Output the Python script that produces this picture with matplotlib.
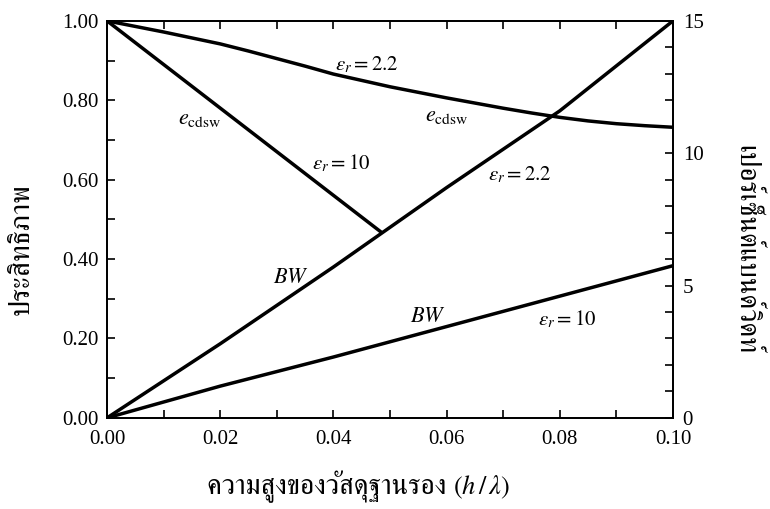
import numpy as np
import matplotlib
matplotlib.use("Agg")
import matplotlib.pyplot as plt
from matplotlib import font_manager
from matplotlib.ft2font import FT2Font
from matplotlib.ticker import MultipleLocator, FormatStrFormatter

# substrate height h/lambda
h_lambda = [0.0, 0.005, 0.01, 0.015, 0.02, 0.025, 0.03, 0.035, 0.04, 0.045,
            0.05, 0.055, 0.06, 0.065, 0.07, 0.075, 0.08, 0.085, 0.09, 0.095, 0.10]

# surface-wave efficiency, er = 2.2
ecdsw_22 = [1.0, 0.986, 0.972, 0.957, 0.942, 0.924, 0.905, 0.886, 0.866, 0.850,
            0.834, 0.820, 0.806, 0.793, 0.780, 0.768, 0.757, 0.748, 0.741, 0.736, 0.732]

# surface-wave efficiency, er = 10 (ends where it meets the BW curve)
h_ecdsw_10 = [0.0, 0.0487]
ecdsw_10 = [1.0, 0.465]

# percent bandwidth
h_bw = [0.0, 0.02, 0.04, 0.06, 0.08, 0.10]
bw_22 = [0.0, 2.8, 5.7, 8.7, 11.6, 15.0]
bw_10 = [0.0, 1.2, 2.3, 3.45, 4.6, 5.75]


def find_thai_family():
    """Return the name of an installed font that has Thai glyphs."""
    found = []
    for f in font_manager.fontManager.ttflist:
        try:
            if 0x0E1B in FT2Font(f.fname).get_charmap():
                found.append(f.name)
        except Exception:
            continue
    if not found:
        return None
    found.sort(key=lambda n: (0 if "Serif" in n else 1, n))
    return found[0]


thai = find_thai_family()
serif = "Liberation Serif"
thai_fam = [thai, serif, "DejaVu Sans"] if thai else [serif, "DejaVu Sans"]

plt.rcParams["font.family"] = serif
plt.rcParams["mathtext.fontset"] = "stix"

fig = plt.figure(figsize=(7.7, 5.09), dpi=100)
ax = fig.add_axes([0.139, 0.179, 0.735, 0.780])
ax2 = ax.twinx()

lw = 2.5
ax.plot(h_lambda, ecdsw_22, color="black", lw=lw, solid_capstyle="butt")
ax.plot(h_ecdsw_10, ecdsw_10, color="black", lw=lw, solid_capstyle="butt")
ax2.plot(h_bw, bw_22, color="black", lw=lw, solid_capstyle="butt")
ax2.plot(h_bw, bw_10, color="black", lw=lw, solid_capstyle="butt")

ax.set_xlim(0, 0.10)
ax.set_ylim(0, 1.0)
ax2.set_ylim(0, 15)

ax.xaxis.set_major_locator(MultipleLocator(0.02))
ax.xaxis.set_minor_locator(MultipleLocator(0.01))
ax.xaxis.set_major_formatter(FormatStrFormatter("%.2f"))
ax.yaxis.set_major_locator(MultipleLocator(0.2))
ax.yaxis.set_minor_locator(MultipleLocator(0.1))
ax.yaxis.set_major_formatter(FormatStrFormatter("%.2f"))
ax2.yaxis.set_major_locator(MultipleLocator(5))
ax2.yaxis.set_minor_locator(MultipleLocator(1))

for a in (ax, ax2):
    a.tick_params(which="both", direction="in", length=6, width=1.2,
                  labelsize=15, pad=6)
    for s in a.spines.values():
        s.set_linewidth(1.3)
ax.tick_params(which="both", top=True, right=False)
ax.tick_params(axis="x", pad=9)
ax2.tick_params(axis="y", pad=7)

# curve annotations
eps = dict(fontsize=15, ha="center", va="center")
sym = dict(fontsize=16, ha="center", va="center")
ax.text(0.0459, 0.889, r"$\varepsilon_r = 2.2$", **eps)
ax.text(0.0601, 0.758, r"$e_{\mathrm{cdsw}}$", **sym)
ax.text(0.0164, 0.751, r"$e_{\mathrm{cdsw}}$", **sym)
ax.text(0.0413, 0.642, r"$\varepsilon_r = 10$", **eps)
ax.text(0.0730, 0.612, r"$\varepsilon_r = 2.2$", **eps)
ax.text(0.0325, 0.350, r"$BW$", **sym)
ax.text(0.0567, 0.252, r"$BW$", **sym)
ax.text(0.0814, 0.247, r"$\varepsilon_r = 10$", **eps)

# axis titles (Thai text, with the h/lambda part in math text)
fig.text(0.588, 0.043, "ความสูงของวัสดุฐานรอง ", family=thai_fam,
         fontsize=20, ha="right", va="center")
fig.text(0.588, 0.043, r"$(h\,/\,\lambda)$", fontsize=19, ha="left", va="center")
fig.text(0.028, 0.51, "ประสิทธิภาพ", family=thai_fam, fontsize=21,
         rotation=90, ha="center", va="center")
fig.text(0.968, 0.51, "เปอร์เซ็นต์แบนด์วิดท์", family=thai_fam, fontsize=20,
         rotation=270, ha="center", va="center")

fig.savefig("out.png", dpi=100)
